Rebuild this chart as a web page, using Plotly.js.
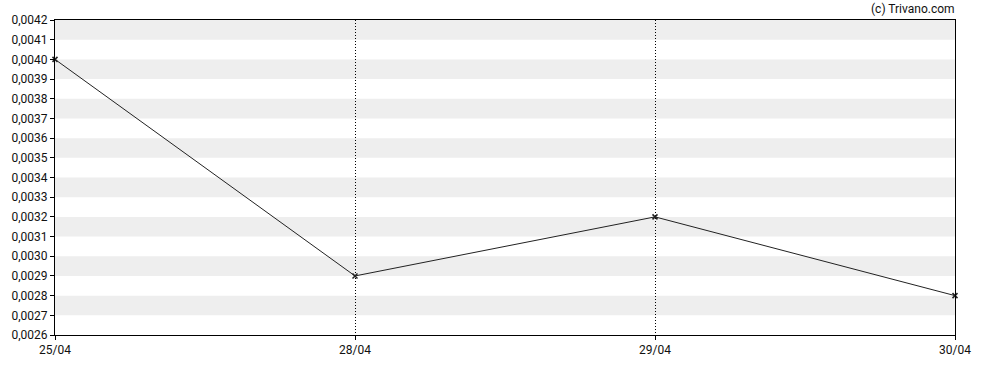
<!DOCTYPE html>
<html>
<head>
<meta charset="utf-8">
<script src="https://cdn.plot.ly/plotly-3.0.1.min.js"></script>
<style>html,body{margin:0;padding:0;background:#fff;}#chart{width:988px;height:370px;}</style>
</head>
<body>
<div id="chart"></div>
<script>
const dates = ["25/04", "28/04", "29/04", "30/04"];
const prices = [0.0040, 0.0029, 0.0032, 0.0028];
const yTicks = [0.0026,0.0027,0.0028,0.0029,0.0030,0.0031,0.0032,0.0033,0.0034,0.0035,0.0036,0.0037,0.0038,0.0039,0.0040,0.0041,0.0042];

const xIdx = dates.map((d, i) => i);
const shapes = [];
for (let i = 1; i < yTicks.length - 1; i += 2) {
  shapes.push({type: 'rect', xref: 'paper', yref: 'y', x0: 0, x1: 1, y0: yTicks[i], y1: yTicks[i + 1],
    fillcolor: '#eeeeee', line: {width: 0}, layer: 'below'});
}

const trace = {
  x: xIdx, y: prices, type: 'scatter', mode: 'lines+markers', cliponaxis: false,
  line: {color: '#222222', width: 1},
  marker: {symbol: 'x-thin', size: 5, color: '#222222', line: {width: 1.5, color: '#222222'}},
  hoverinfo: 'none'
};

const layout = {
  width: 988, height: 370,
  margin: {l: 55, r: 33, t: 20, b: 35},
  paper_bgcolor: '#ffffff', plot_bgcolor: 'rgba(0,0,0,0)',
  separators: ',.',
  font: {family: 'Roboto, Arial, sans-serif', size: 12, color: '#111111'},
  showlegend: false,
  xaxis: {
    range: [0, dates.length - 1], tickvals: xIdx, ticktext: dates,
    showgrid: true, gridcolor: '#000000', griddash: '1px,2px', gridwidth: 1,
    showline: true, linecolor: '#000000', linewidth: 1, mirror: true,
    ticks: 'outside', ticklen: 4, tickcolor: '#000000', zeroline: false,
    tickfont: {size: 12}
  },
  yaxis: {
    range: [yTicks[0], yTicks[yTicks.length - 1]], tickvals: yTicks, tickformat: '.4f',
    showgrid: false, showline: true, linecolor: '#000000', linewidth: 1, mirror: true,
    ticks: 'outside', ticklen: 4, tickcolor: '#000000', zeroline: false,
    tickfont: {size: 12}
  },
  shapes: shapes,
  annotations: [{
    text: '(c) Trivano.com', xref: 'paper', yref: 'paper', x: 1.002, y: 1, xanchor: 'right', yanchor: 'bottom',
    yshift: 2, showarrow: false, font: {size: 12, color: '#111111'}
  }]
};

Plotly.newPlot('chart', [trace], layout, {staticPlot: true, displayModeBar: false});
</script>
</body>
</html>
